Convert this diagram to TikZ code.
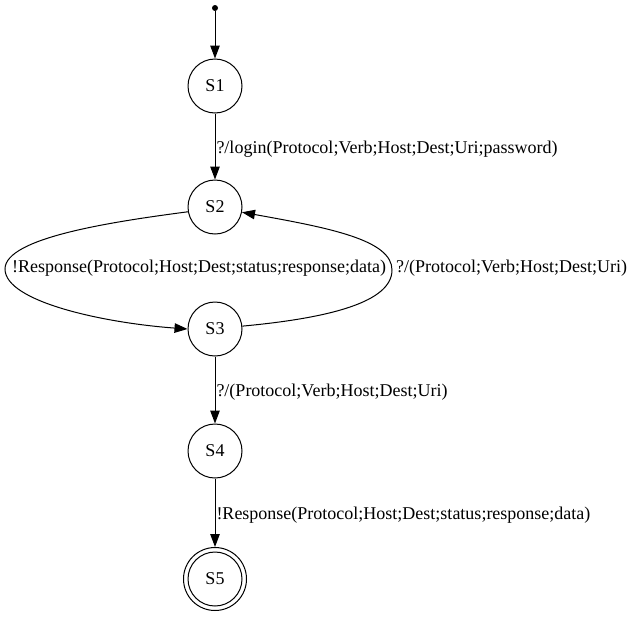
\documentclass[tikz,border=0pt]{standalone}
\usepackage{fontspec}
\setmainfont{Liberation Serif}
\usetikzlibrary{arrows.meta}
\begin{document}
\begin{tikzpicture}[x=1pt,y=-1pt,
  font=\fontsize{18}{21}\selectfont,
  state/.style={draw, circle, minimum size=54pt, inner sep=0pt, line width=1pt},
  lbl/.style={inner sep=1pt},
  elbl/.style={inner sep=1pt, right, yshift=-2.5pt},
  edge/.style={line width=1pt, -{Triangle[length=13pt,width=9.5pt]}}]
\useasboundingbox (0,0) rectangle (634,616);
\node[circle, fill=black, inner sep=0pt, minimum size=6pt] (start) at (215,8) {};
\node[state] (S1) at (215,86) {S1};
\node[state] (S2) at (215,207) {S2};
\node[state] (S3) at (215,329) {S3};
\node[state] (S4) at (215,451) {S4};
\node[draw, circle, minimum size=63pt, inner sep=0pt, line width=1pt] (S5) at (215,579) {};
\node[state] (S5i) at (215,579) {S5};
\draw[edge] (start) -- (S1);
\draw[edge] (S1) -- node[elbl] {?/login(Protocol;Verb;Host;Dest;Uri;password)} (S2);
\draw[edge] (S2.190) .. controls (110,222) and (5,238) .. (5,269) .. controls (5,302) and (105,323) .. (S3.180);
\draw[edge] (S3.6) .. controls (330,318) and (392,302) .. (392,270) .. controls (392,240) and (330,228) .. (S2.349);
\node[lbl] (l23) at (199,268) {!Response(Protocol;Host;Dest;status;response;data)};
\node[lbl, anchor=west] (l32) at (395,268) {?/(Protocol;Verb;Host;Dest;Uri)};
\draw[edge] (S3) -- node[elbl] {?/(Protocol;Verb;Host;Dest;Uri)} (S4);
\draw[edge] (S4) -- node[elbl] {!Response(Protocol;Host;Dest;status;response;data)} (S5);
\end{tikzpicture}
\end{document}
